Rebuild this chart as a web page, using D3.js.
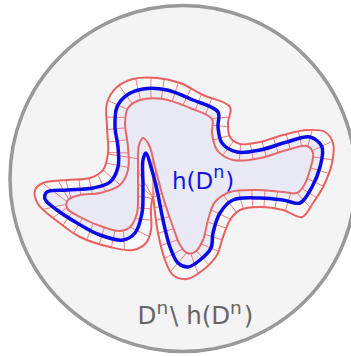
<!DOCTYPE html>
<html><head><meta charset="utf-8">
<script src="https://cdn.jsdelivr.net/npm/d3@7"></script>
<style>html,body{margin:0;padding:0;background:#fff;}svg{display:block;}</style>
</head><body>
<svg id="c" width="351" height="356"></svg>
<script>
// Boundary of h(D^n) (blue)
const bluePts = [[47,192],[67,190],[93,188],[110,182],[118,167],[118,147],[115,127],[117,107],[127,95],[143,89],[167,90],[193,100],[218,112],[218,127],[222,143],[237,152],[260,150],[287,142],[310,137],[322,147],[320,167],[312,187],[300,203],[283,200],[260,198],[233,200],[220,213],[213,233],[211,248],[200,260],[188,267],[178,263],[170,247],[163,220],[157,190],[151,167],[146,153],[143,160],[143,187],[142,213],[135,233],[123,240],[100,235],[77,223],[57,210],[45,199]];
// Outer collar (red)
const outerPts = [[35,190],[43,183],[67,180],[90,178],[103,170],[108,153],[107,127],[107,103],[117,87],[133,79],[157,78],[180,83],[203,95],[230,107],[228,123],[230,137],[240,144],[260,142],[283,135],[307,130],[325,132],[333,143],[332,163],[323,187],[313,203],[302,217],[283,210],[260,207],[240,210],[230,220],[222,240],[217,255],[203,270],[187,279],[173,275],[165,260],[158,233],[155,213],[153,197],[151,208],[151,230],[146,243],[133,250],[110,247],[80,237],[57,221],[38,204]];
// Inner collar (red)
const innerPts = [[68,200],[80,195],[100,193],[120,185],[128,170],[128,147],[125,123],[128,108],[140,100],[163,99],[190,108],[212,119],[212,133],[217,150],[233,160],[260,158],[287,150],[307,146],[313,153],[310,170],[303,187],[297,193],[283,192],[257,190],[230,192],[215,202],[208,220],[203,240],[195,252],[187,253],[180,245],[173,227],[163,197],[155,167],[149,145],[143,138],[139,145],[138,167],[138,193],[137,213],[130,227],[120,231],[103,227],[80,217],[67,208]];
const innerLabel = ["h(D", "n", ")"];
const outerLabel = ["D", "n", "\\ h(D", "n", ")"];

const svg = d3.select("#c");
const line = d3.line().curve(d3.curveCatmullRomClosed.alpha(0.5));

svg.append("circle").attr("cx",183).attr("cy",178.5).attr("r",173)
  .attr("fill","#f4f4f4").attr("stroke","#999").attr("stroke-width",3.5);

const outerPath = svg.append("path").attr("d",line(outerPts)).attr("fill","#f9f9fa").attr("stroke","none");
const bluePathFill = svg.append("path").attr("d",line(bluePts)).attr("fill","#ebebf6").attr("stroke","none");
const innerPathFill = svg.append("path").attr("d",line(innerPts)).attr("fill","#e9e9f5").attr("stroke","none");

function sample(pathNode, step){
  const L = pathNode.getTotalLength(); const out=[];
  for(let s=0;s<L;s+=step){const p=pathNode.getPointAtLength(s); out.push([p.x,p.y]);}
  return out;
}
const oS = sample(outerPath.node(),0.7), iS = sample(innerPathFill.node(),0.7);
function nearest(arr,p){let b=null,bd=1e9;for(const q of arr){const d=(q[0]-p[0])**2+(q[1]-p[1])**2;if(d<bd){bd=d;b=q;}}return b;}
const ticksG = svg.append("g");
const bL = bluePathFill.node().getTotalLength();
for(let s=0;s<bL;s+=12.5){
  const p = bluePathFill.node().getPointAtLength(s); const pp=[p.x,p.y];
  const a = nearest(oS,pp), b = nearest(iS,pp);
  ticksG.append("line").attr("x1",a[0]).attr("y1",a[1]).attr("x2",b[0]).attr("y2",b[1])
    .attr("stroke","#ee7070").attr("stroke-width",0.9);
}
svg.append("path").attr("d",line(outerPts)).attr("fill","none").attr("stroke","#ea5f5f").attr("stroke-width",2);
svg.append("path").attr("d",line(innerPts)).attr("fill","none").attr("stroke","#e46a6a").attr("stroke-width",2);
svg.append("path").attr("d",line(bluePts)).attr("fill","none").attr("stroke","#0a0ae6").attr("stroke-width",3.5);

function label(parts,x,y,color,size,supSize,supShift,gap){
  const t = svg.append("text").attr("x",x).attr("y",y).attr("fill",color)
    .attr("font-family","DejaVu Sans, sans-serif").attr("font-size",size);
  parts.forEach((s,i)=>{
    const ts=t.append("tspan").text(s);
    if(s==="n"){ts.attr("dy",-supShift).attr("font-size",supSize);}
    else if(i>0 && parts[i-1]==="n"){ts.attr("dy",supShift).attr("dx",gap);}
  });
}
label(innerLabel,172,188.5,"#1414e6",23,17.5,11,1);
label(outerLabel,137.5,323.5,"#666",24.5,18.5,10,2);
</script>
</body></html>
